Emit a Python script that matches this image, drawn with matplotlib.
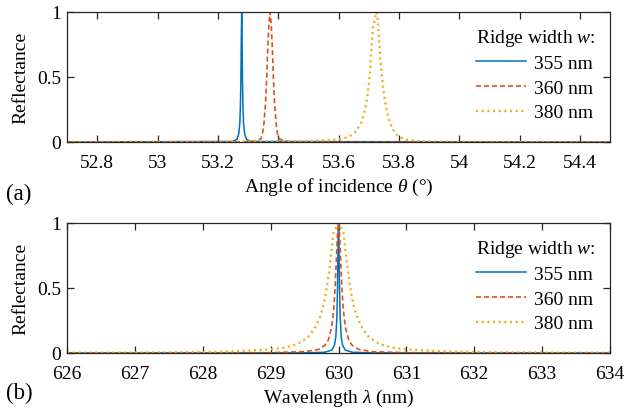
import matplotlib
matplotlib.use("Agg")
import matplotlib.pyplot as plt

plt.rcParams['font.family'] = ['Liberation Serif', 'DejaVu Serif']
plt.rcParams['mathtext.fontset'] = 'custom'
plt.rcParams['mathtext.rm'] = 'Liberation Serif'
plt.rcParams['mathtext.it'] = 'Liberation Serif:italic'

# ---- (a) reflectance vs angle of incidence ----
ang_355 = [52.70, 53.249, 53.263, 53.269, 53.273, 53.275, 53.2765, 53.2775, 53.279,
           53.2805, 53.2815, 53.283, 53.285, 53.289, 53.295, 53.309, 54.50]
ref_a_355 = [0.0, 0.004, 0.02, 0.06, 0.15, 0.3, 0.5, 0.75, 1.0,
             0.75, 0.5, 0.3, 0.15, 0.06, 0.02, 0.004, 0.0]

ang_360 = [52.70, 53.273, 53.323, 53.343, 53.348, 53.353, 53.358, 53.362, 53.365, 53.369, 53.373,
           53.377, 53.381, 53.384, 53.388, 53.393, 53.398, 53.403, 53.423, 53.473, 54.50]
ref_a_360 = [0.0, 0.001, 0.006, 0.025, 0.06, 0.15, 0.3, 0.5, 0.7, 0.9, 1.0,
             0.9, 0.7, 0.5, 0.3, 0.15, 0.06, 0.025, 0.006, 0.001, 0.0]

ang_380 = [52.70, 53.30, 53.50, 53.581, 53.614, 53.637, 53.659, 53.675, 53.684, 53.692, 53.697,
           53.703, 53.707, 53.711, 53.714, 53.726, 53.730, 53.734, 53.738, 53.744, 53.750,
           53.758, 53.767, 53.780, 53.797, 53.824, 53.869, 53.957, 54.50]
ref_a_380 = [0.0005, 0.002, 0.007, 0.016, 0.026, 0.044, 0.083, 0.147, 0.212, 0.289, 0.380,
             0.501, 0.651, 0.780, 0.884, 1.0, 0.935, 0.806, 0.651, 0.501, 0.380,
             0.264, 0.173, 0.096, 0.044, 0.018, 0.005, 0.001, 0.0]

# ---- (b) reflectance vs wavelength ----
wl_355 = [626.0, 629.5, 629.8, 629.9, 629.94, 629.96, 629.975, 629.985, 629.99, 629.995, 630.0,
          630.005, 630.01, 630.015, 630.025, 630.04, 630.06, 630.1, 630.2, 630.5, 634.0]
ref_b_355 = [0.0, 0.0009, 0.0056, 0.022, 0.059, 0.123, 0.265, 0.5, 0.69, 0.9, 1.0,
             0.9, 0.69, 0.5, 0.265, 0.123, 0.059, 0.022, 0.0056, 0.0009, 0.0]

wl_360 = [626.0, 628.0, 629.0, 629.5, 629.7, 629.8, 629.85, 629.9, 629.93, 629.95, 629.97, 629.985,
          630.0, 630.015, 630.03, 630.05, 630.07, 630.1, 630.15, 630.2, 630.3, 630.5, 631.0,
          632.0, 634.0]
ref_b_360 = [0.0002, 0.0006, 0.0025, 0.0099, 0.027, 0.059, 0.1, 0.2, 0.34, 0.5, 0.74, 0.92,
             1.0, 0.92, 0.74, 0.5, 0.34, 0.2, 0.1, 0.059, 0.027, 0.0099, 0.0025,
             0.0006, 0.0002]

wl_380 = [626.0, 627.0, 628.0, 628.5, 629.0, 629.2, 629.4, 629.55, 629.65, 629.72, 629.77, 629.81,
          629.84, 629.875, 629.9, 629.925, 630.0, 630.075, 630.1, 630.125, 630.16, 630.19,
          630.23, 630.28, 630.35, 630.45, 630.6, 630.8, 631.0, 631.5, 632.0, 633.0, 634.0]
ref_b_380 = [0.002, 0.003, 0.007, 0.013, 0.028, 0.04, 0.07, 0.12, 0.19, 0.27, 0.35, 0.45,
             0.55, 0.68, 0.80, 0.92, 1.0, 0.92, 0.80, 0.68, 0.55, 0.45,
             0.35, 0.27, 0.19, 0.12, 0.07, 0.04, 0.028, 0.013, 0.007, 0.003, 0.002]

labels = ['355 nm', '360 nm', '380 nm']
colors = ['#0072BD', '#D95319', '#EDB120']

xticks_a = [52.8, 53.0, 53.2, 53.4, 53.6, 53.8, 54.0, 54.2, 54.4]
xticklabels_a = ['52.8', '53', '53.2', '53.4', '53.6', '53.8', '54', '54.2', '54.4']
xticks_b = [626, 627, 628, 629, 630, 631, 632, 633, 634]
yticks = [0, 0.5, 1]
yticklabels = ['0', '0.5', '1']

fs = 14
fig = plt.figure(figsize=(6.24, 4.14), dpi=100)
axA = fig.add_axes([0.1074, 0.6546, 0.8702, 0.314])
axB = fig.add_axes([0.1074, 0.1450, 0.8702, 0.3140])

def style(ax):
    for s in ax.spines.values():
        s.set_color('#262626')
        s.set_linewidth(0.9)
    ax.tick_params(direction='in', top=True, right=True, length=5, width=0.9,
                   color='#262626', labelsize=fs)
    ax.tick_params(axis='x', pad=8.5)
    ax.tick_params(axis='y', pad=4)
    ax.set_ylim(0, 1)
    ax.set_yticks(yticks)
    ax.set_yticklabels(yticklabels)
    ax.set_ylabel('Reflectance', fontsize=fs, labelpad=6)

def draw(ax, xs, ys):
    ax.plot(xs[0], ys[0], '-', color=colors[0], lw=1.1, label=labels[0])
    ax.plot(xs[1], ys[1], color=colors[1], lw=1.2, dashes=(3.0, 1.8), label=labels[1])
    ax.plot(xs[2], ys[2], color=colors[2], lw=1.7, dashes=(0.9, 1.5), label=labels[2])

draw(axA, [ang_355, ang_360, ang_380], [ref_a_355, ref_a_360, ref_a_380])
axA.set_xlim(52.7, 54.5)
axA.set_xticks(xticks_a)
axA.set_xticklabels(xticklabels_a)
style(axA)
axA.set_xlabel(r'Angle of incidence $\theta$ (°)', fontsize=fs, labelpad=4)

draw(axB, [wl_355, wl_360, wl_380], [ref_b_355, ref_b_360, ref_b_380])
axB.set_xlim(626, 634)
axB.set_xticks(xticks_b)
style(axB)
axB.set_xlabel(r'Wavelength $\lambda$ (nm)', fontsize=fs, labelpad=4)

for ax in (axA, axB):
    ax.legend(loc='upper right', bbox_to_anchor=(1.0, 1.0), frameon=False,
              fontsize=fs, title=r'Ridge width $w$:', title_fontsize=fs,
              handlelength=2.6, handletextpad=0.4, labelspacing=0.36,
              borderaxespad=0.35, alignment='left')

fig.text(0.010, 0.530, '(a)', fontsize=16.5, ha='left', va='center')
fig.text(0.010, 0.050, '(b)', fontsize=16.5, ha='left', va='center')

fig.savefig('out.png', dpi=100)
